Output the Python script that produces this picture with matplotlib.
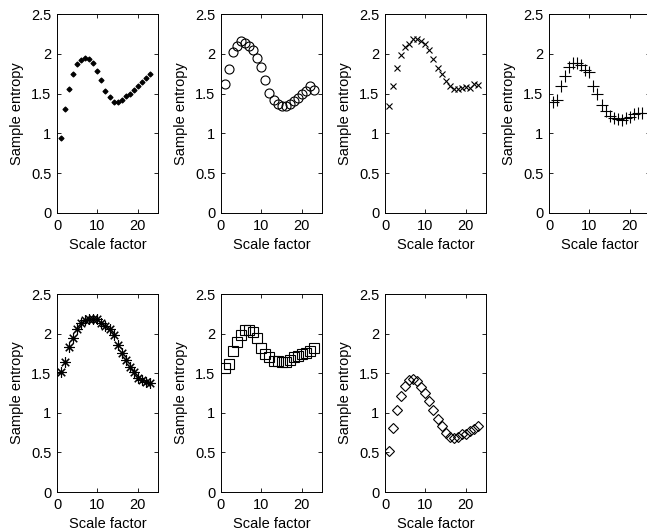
import numpy as np
import matplotlib
matplotlib.use("Agg")
import matplotlib.pyplot as plt

plt.rcParams['font.family'] = ['Liberation Sans', 'DejaVu Sans']

# scale factors 1..23
scale = np.arange(1, 24)

se_1 = [0.94, 1.31, 1.56, 1.74, 1.87, 1.92, 1.95, 1.94, 1.88, 1.79, 1.67, 1.53,
        1.46, 1.40, 1.39, 1.42, 1.47, 1.50, 1.54, 1.59, 1.64, 1.69, 1.74]
se_2 = [1.62, 1.81, 2.02, 2.10, 2.16, 2.14, 2.10, 2.05, 1.95, 1.84, 1.67, 1.51,
        1.42, 1.37, 1.35, 1.35, 1.37, 1.41, 1.45, 1.49, 1.53, 1.59, 1.55]
se_3 = [1.35, 1.59, 1.82, 1.98, 2.08, 2.12, 2.18, 2.19, 2.16, 2.12, 2.05, 1.94,
        1.82, 1.74, 1.66, 1.60, 1.56, 1.56, 1.57, 1.58, 1.57, 1.62, 1.61]
se_4 = [1.40, 1.42, 1.60, 1.72, 1.84, 1.88, 1.88, 1.86, 1.80, 1.77, 1.60, 1.50,
        1.36, 1.28, 1.22, 1.19, 1.18, 1.17, 1.19, 1.21, 1.24, 1.25, 1.25]
se_5 = [1.51, 1.64, 1.83, 1.95, 2.06, 2.14, 2.17, 2.19, 2.19, 2.18, 2.14, 2.10,
        2.06, 1.98, 1.86, 1.76, 1.67, 1.58, 1.51, 1.44, 1.41, 1.39, 1.37]
se_6 = [1.57, 1.61, 1.78, 1.90, 1.98, 2.05, 2.04, 2.02, 1.95, 1.82, 1.74, 1.70,
        1.66, 1.65, 1.64, 1.64, 1.67, 1.70, 1.72, 1.74, 1.76, 1.78, 1.82]
se_7 = [0.52, 0.81, 1.03, 1.21, 1.34, 1.41, 1.43, 1.40, 1.33, 1.25, 1.15, 1.04,
        0.92, 0.83, 0.75, 0.70, 0.68, 0.70, 0.73, 0.73, 0.77, 0.80, 0.83]

series = [se_1, se_2, se_3, se_4, se_5, se_6, se_7]
# (marker, size, filled) -- asterisk as 8-spoke marker like matlab '*'
markers = [('D', 2.6, True), ('o', 6.5, False), ('x', 5, False), ('+', 8, False),
           ((8, 2, 0), 7.5, False), ('s', 6.5, False), ('D', 5.5, False)]

fig = plt.figure(figsize=(6.47, 5.31), dpi=100)

lefts = [57, 221, 385, 549]
W, H = 647.0, 531.0
rows = [(14, 213), (294, 492)]

for i, y in enumerate(series):
    r, c = divmod(i, 4)
    top, bot = rows[r]
    ax = fig.add_axes([lefts[c] / W, (H - bot) / H, 101 / W, (bot - top) / H])
    m, ms, filled = markers[i]
    ax.plot(scale, y, linestyle='none', marker=m, markersize=ms,
            markerfacecolor='black' if filled else 'none',
            markeredgecolor='black', markeredgewidth=0.8, color='black')
    ax.set_xlim(0, 25)
    ax.set_ylim(0, 2.5)
    ax.set_xticks([0, 10, 20])
    ax.set_yticks([0, 0.5, 1, 1.5, 2, 2.5])
    ax.set_yticklabels(['0', '0.5', '1', '1.5', '2', '2.5'])
    ax.tick_params(direction='in', top=True, right=True, length=3,
                   width=0.6, labelsize=10.5, pad=4)
    for s in ax.spines.values():
        s.set_linewidth(0.7)
    ax.set_xlabel('Scale factor', fontsize=10.5, labelpad=4)
    ax.set_ylabel('Sample entropy', fontsize=10.5, labelpad=5)

fig.savefig('out.png', dpi=100)
